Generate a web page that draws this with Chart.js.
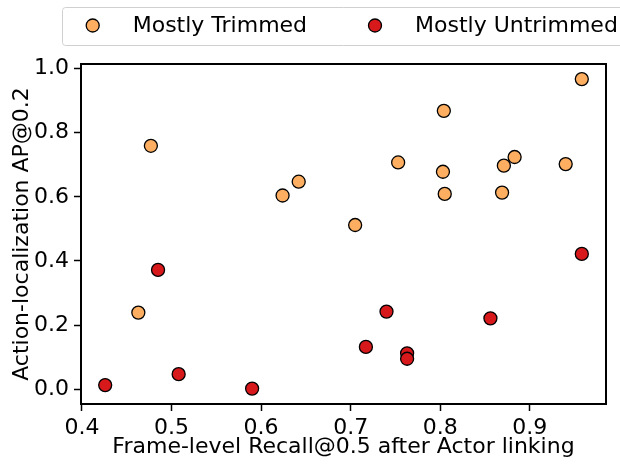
<!DOCTYPE html>
<html>
<head>
<meta charset="utf-8">
<script src="https://cdn.jsdelivr.net/npm/chart.js@4.4.1/dist/chart.umd.min.js"></script>
<style>
  body { margin: 0; background: #fff; }
</style>
</head>
<body>
<canvas id="myChart" width="620" height="465"></canvas>
<script>
// series
var seriesNames = ["Mostly Trimmed", "Mostly Untrimmed"];
var trimmedX = [0.477, 0.463, 0.624, 0.642, 0.705, 0.753, 0.804, 0.803, 0.805, 0.869, 0.883, 0.871, 0.940, 0.958];
var trimmedY = [0.759, 0.239, 0.604, 0.647, 0.512, 0.707, 0.868, 0.678, 0.609, 0.613, 0.724, 0.697, 0.702, 0.967];
var untrimmedX = [0.426, 0.485, 0.508, 0.590, 0.717, 0.740, 0.763, 0.763, 0.856, 0.958];
var untrimmedY = [0.013, 0.372, 0.047, 0.002, 0.132, 0.242, 0.112, 0.095, 0.221, 0.422];
var xTicks = [0.4, 0.5, 0.6, 0.7, 0.8, 0.9];
var yTicks = [0.0, 0.2, 0.4, 0.6, 0.8, 1.0];

var colors = ["#fdae61", "#d7191c"];
var font = "DejaVu Sans";
var fontSize = 22;

function toPoints(xs, ys) {
  var pts = [];
  for (var i = 0; i < xs.length; i++) pts.push({ x: xs[i], y: ys[i] });
  return pts;
}

// frame round the plot + boxed legend at the top
var framePlugin = {
  id: "frame",
  afterDraw: function (chart) {
    var ctx = chart.ctx;
    var a = chart.chartArea;
    ctx.save();
    ctx.strokeStyle = "#000";
    ctx.lineWidth = 2;
    ctx.strokeRect(a.left, a.top, a.right - a.left, a.bottom - a.top);

    // legend box
    ctx.beginPath();
    ctx.roundRect(62.5, 7.5, 600, 38, 3);
    ctx.fillStyle = "rgba(255,255,255,0.8)";
    ctx.fill();
    ctx.strokeStyle = "#d0d0d0";
    ctx.lineWidth = 1;
    ctx.stroke();

    var markX = [92.7, 375];
    var textX = [132.7, 415];
    ctx.font = fontSize + "px '" + font + "'";
    ctx.textBaseline = "middle";
    ctx.textAlign = "left";
    for (var i = 0; i < seriesNames.length; i++) {
      ctx.beginPath();
      ctx.arc(markX[i], 25.5, 6.5, 0, Math.PI * 2);
      ctx.fillStyle = colors[i];
      ctx.fill();
      ctx.lineWidth = 1.3;
      ctx.strokeStyle = "#000";
      ctx.stroke();
      ctx.fillStyle = "#000";
      ctx.fillText(seriesNames[i], textX[i], 26.5);
    }
    ctx.restore();
  }
};

new Chart("myChart", {
  type: "scatter",
  data: {
    datasets: [{
      label: seriesNames[0],
      data: toPoints(trimmedX, trimmedY),
      backgroundColor: colors[0],
      borderColor: "#000",
      borderWidth: 1.3,
      pointRadius: 6.5,
      pointHoverRadius: 6.5
    }, {
      label: seriesNames[1],
      data: toPoints(untrimmedX, untrimmedY),
      backgroundColor: colors[1],
      borderColor: "#000",
      borderWidth: 1.3,
      pointRadius: 6.5,
      pointHoverRadius: 6.5
    }]
  },
  options: {
    responsive: false,
    animation: false,
    layout: { padding: { top: 64, right: 14, left: 0, bottom: 0 } },
    plugins: {
      legend: { display: false },
      tooltip: { enabled: false }
    },
    scales: {
      x: {
        type: "linear",
        min: 0.399,
        max: 0.985,
        afterFit: function (s) { s.height = 61; },
        afterBuildTicks: function (s) { s.ticks = xTicks.map(function (v) { return { value: v }; }); },
        border: { display: false },
        grid: { drawOnChartArea: false, drawTicks: true, tickLength: 7, tickColor: "#000", tickWidth: 1.5 },
        ticks: {
          color: "#000",
          padding: 4,
          font: { family: font, size: fontSize },
          callback: function (v) { return v.toFixed(1); }
        },
        title: {
          display: true,
          text: "Frame-level Recall@0.5 after Actor linking",
          color: "#000",
          font: { family: font, size: fontSize },
          padding: { top: 0, bottom: 4.5 }
        }
      },
      y: {
        type: "linear",
        min: -0.046,
        max: 1.014,
        afterFit: function (s) { s.width = 81; },
        afterBuildTicks: function (s) { s.ticks = yTicks.map(function (v) { return { value: v }; }); },
        border: { display: false },
        grid: { drawOnChartArea: false, drawTicks: true, tickLength: 7, tickColor: "#000", tickWidth: 1.5 },
        ticks: {
          color: "#000",
          padding: 5,
          font: { family: font, size: fontSize },
          callback: function (v) { return v.toFixed(1); }
        },
        title: {
          display: true,
          text: "Action-localization AP@0.2",
          color: "#000",
          font: { family: font, size: fontSize },
          padding: { top: 9.5, bottom: 0 }
        }
      }
    }
  },
  plugins: [framePlugin]
});
</script>
</body>
</html>
